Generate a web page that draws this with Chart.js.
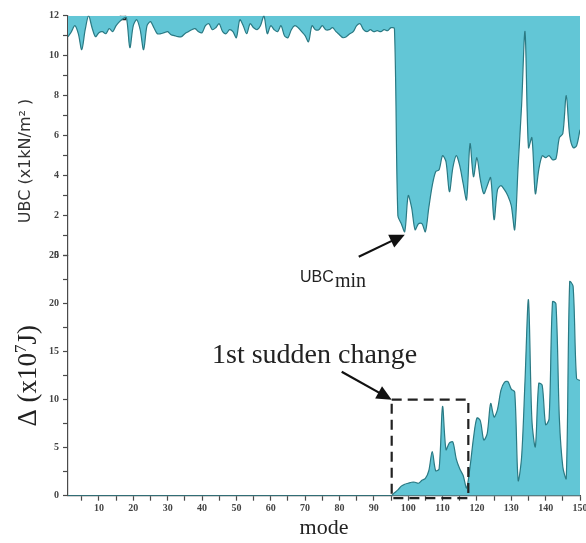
<!DOCTYPE html>
<html>
<head>
<meta charset="utf-8">
<script src="https://cdn.jsdelivr.net/npm/chart.js@4.4.0/dist/chart.umd.min.js"></script>
<style>
  html, body { margin: 0; padding: 0; background: #fff; }
  #wrap { position: relative; width: 586px; height: 543px; overflow: hidden; }
  #ubcChart { position: absolute; left: 0; top: 0; }
  #deltaChart { position: absolute; left: 0; top: 250px; }
</style>
</head>
<body>
<div id="wrap">
  <canvas id="ubcChart" width="586" height="300"></canvas>
  <canvas id="deltaChart" width="586" height="293"></canvas>
</div>
<script>
// mode numbers 1..150 (x categories)
const modes = Array.from({ length: 150 }, (_, i) => i + 1);

// UBC (x1kN/m2) per mode
const ubcValues = [
  10.95, 11.2, 11.5, 11.1, 10.3, 11.3, 12.0, 11.4, 10.95, 11.15,
  11.2, 11.1, 11.35, 11.2, 11.5, 11.7, 11.85, 11.9, 10.4, 11.5,
  11.8, 11.3, 10.3, 11.5, 11.7, 11.4, 11.1, 11.1, 11.15, 11.2,
  11.05, 11.0, 10.95, 10.95, 11.1, 11.2, 11.3, 11.35, 11.2, 11.15,
  11.5, 11.6, 11.3, 11.4, 11.6, 11.2, 11.1, 11.3, 11.2, 10.9,
  11.8, 11.5, 11.1, 11.6, 11.4, 11.3, 11.5, 12.0, 11.1, 11.5,
  11.3, 11.2, 11.5, 11.0, 10.9, 11.3, 11.5, 11.4, 11.2, 11.0,
  10.7, 11.5, 11.3, 11.3, 11.5, 11.3, 11.3, 11.4, 11.2, 11.05,
  10.9, 10.95, 11.1, 11.2, 11.5, 11.6, 11.3, 11.2, 11.3, 11.2,
  11.25, 11.2, 11.3, 11.25, 11.4, 11.35, 2.0, 1.6, 1.2, 3.0,
  2.4, 1.3, 1.6, 1.6, 1.2, 2.4, 3.5, 4.2, 4.3, 5.0,
  4.7, 3.2, 4.4, 5.0, 4.5, 3.6, 2.8, 5.6, 3.95, 4.9,
  3.8, 3.1, 3.5, 3.9, 1.8, 3.3, 3.5, 3.3, 3.0, 2.5,
  1.3, 4.5, 7.5, 11.2, 5.4, 5.9, 3.1, 4.3, 5.0, 4.9,
  5.0, 4.8, 4.85, 5.9, 6.1, 8.0, 6.0, 5.4, 5.5, 6.3
];

// Delta (x10^7 J) per mode
const deltaValues = [
  0, 0, 0, 0, 0, 0, 0, 0, 0, 0,
  0, 0, 0, 0, 0, 0, 0, 0, 0, 0,
  0, 0, 0, 0, 0, 0, 0, 0, 0, 0,
  0, 0, 0, 0, 0, 0, 0, 0, 0, 0,
  0, 0, 0, 0, 0, 0, 0, 0, 0, 0,
  0, 0, 0, 0, 0, 0, 0, 0, 0, 0,
  0, 0, 0, 0, 0, 0, 0, 0, 0, 0,
  0, 0, 0, 0, 0, 0, 0, 0, 0, 0,
  0, 0, 0, 0, 0, 0, 0, 0, 0, 0,
  0, 0, 0, 0, 0, 0.3, 0.6, 1.0, 1.2, 1.3,
  1.4, 1.4, 1.3, 1.6, 1.8, 2.6, 4.6, 2.6, 2.8, 9.3,
  4.8, 5.5, 5.6, 3.8, 2.8, 2.1, 0.8, 3.0, 6.0, 8.1,
  7.8, 5.8, 6.5, 9.6, 8.2, 9.0, 11.0, 11.8, 11.9, 11.1,
  10.8, 1.6, 4.0, 12.0, 20.4, 7.9, 5.1, 11.7, 11.5, 7.4,
  8.0, 20.2, 20.0, 8.0, 3.0, 1.8, 22.3, 21.8, 12.2, 12.0
];

// marked point on the UBC curve
const markerMode = [17];
const markerValue = [11.93];

// tick positions (labels shown only on the major ones)
const modeTicks = [5, 10, 15, 20, 25, 30, 35, 40, 45, 50, 55, 60, 65, 70, 75, 80, 85, 90, 95, 100,
                   105, 110, 115, 120, 125, 130, 135, 140, 145, 150];
const ubcTicks = [0, 1, 2, 3, 4, 5, 6, 7, 8, 9, 10, 11, 12];
const deltaTicks = [0, 2.5, 5, 7.5, 10, 12.5, 15, 17.5, 20, 22.5, 25];

const fillColor = 'rgb(98, 198, 214)';
const lineColor = 'rgb(42, 122, 132)';
const axisColor = '#4a4a4a';
const tickFont = { family: 'Liberation Serif', size: 10, weight: 'bold' };

function drawArrow(ctx, x0, y0, x1, y1) {
    const ang = Math.atan2(y1 - y0, x1 - x0);
    const head = 15;
    ctx.save();
    ctx.strokeStyle = '#111';
    ctx.fillStyle = '#111';
    ctx.lineWidth = 2.2;
    ctx.beginPath();
    ctx.moveTo(x0, y0);
    ctx.lineTo(x1 - head * 0.8 * Math.cos(ang), y1 - head * 0.8 * Math.sin(ang));
    ctx.stroke();
    ctx.beginPath();
    ctx.moveTo(x1, y1);
    ctx.lineTo(x1 - head * Math.cos(ang) + 7 * Math.sin(ang), y1 - head * Math.sin(ang) - 7 * Math.cos(ang));
    ctx.lineTo(x1 - head * Math.cos(ang) - 7 * Math.sin(ang), y1 - head * Math.sin(ang) + 7 * Math.cos(ang));
    ctx.closePath();
    ctx.fill();
    ctx.restore();
}

// y title + "UBC min" callout for the top panel
const ubcNotes = {
    id: 'ubcNotes',
    afterDraw(chart) {
        const ctx = chart.ctx;
        const { x, y } = chart.scales;
        ctx.save();
        ctx.fillStyle = '#333';
        ctx.translate(26, 161);
        ctx.rotate(-Math.PI / 2);
        ctx.font = '16px "DejaVu Sans"';
        ctx.textAlign = 'center';
        ctx.textBaseline = 'middle';
        ctx.fillText('UBC (x1kN/m\u00B2 )', 0, 0);
        ctx.restore();

        const tipX = x.getPixelForValue(99);
        const tipY = y.getPixelForValue(ubcValues[98]) + 3;
        drawArrow(ctx, tipX - 46, tipY + 22, tipX, tipY);

        ctx.save();
        ctx.fillStyle = '#222';
        ctx.textBaseline = 'alphabetic';
        ctx.font = '16px "Liberation Sans"';
        ctx.fillText('UBC', 300, 282);
        ctx.font = '20px "Liberation Serif"';
        ctx.fillText('min', 335, 287);
        ctx.restore();
    }
};

// y title with superscript, dashed box + "1st sudden change" callout for the bottom panel
const deltaNotes = {
    id: 'deltaNotes',
    afterDraw(chart) {
        const ctx = chart.ctx;
        const { x, y } = chart.scales;

        // rotated title "Δ (x10^7J)"
        const big = '27px "Liberation Serif"';
        const small = '17px "Liberation Serif"';
        const parts = [['\u0394 (x10', big, 0], ['7', small, -10], ['J)', big, 0]];
        ctx.save();
        let total = 0;
        parts.forEach(p => { ctx.font = p[1]; total += ctx.measureText(p[0]).width; });
        ctx.translate(27, (y.top + y.bottom) / 2);
        ctx.rotate(-Math.PI / 2);
        ctx.fillStyle = '#222';
        ctx.textBaseline = 'alphabetic';
        let cx = -total / 2;
        parts.forEach(p => {
            ctx.font = p[1];
            ctx.fillText(p[0], cx, 9 + p[2]);
            cx += ctx.measureText(p[0]).width;
        });
        ctx.restore();

        const x1 = x.getPixelForValue(95.2);
        const x2 = x.getPixelForValue(117.5);
        const y1 = y.getPixelForValue(10);
        const y2 = y.getPixelForValue(-0.25);
        ctx.save();
        ctx.strokeStyle = '#222';
        ctx.lineWidth = 2.2;
        ctx.setLineDash([10, 6]);
        ctx.strokeRect(x1, y1, x2 - x1, y2 - y1);
        ctx.restore();

        drawArrow(ctx, x1 - 50, y1 - 28, x1, y1);

        ctx.save();
        ctx.fillStyle = '#222';
        ctx.font = '28px "Liberation Serif"';
        ctx.textBaseline = 'alphabetic';
        ctx.fillText('1st sudden change', 212, 113);
        ctx.restore();
    }
};

function yAxis(min, max, tickValues, labelStep) {
    return {
        min: min,
        max: max,
        afterBuildTicks: s => { s.ticks = tickValues.map(v => ({ value: v })); },
        afterFit: s => { s.width = 68; s.paddingTop = 0; s.paddingBottom = 0; },
        ticks: {
            autoSkip: false,
            callback: v => (v % labelStep === 0 ? v : ''),
            font: tickFont,
            color: '#444',
            padding: 4
        },
        grid: { drawOnChartArea: false, tickLength: 5, color: axisColor, tickWidth: 1.2 },
        border: { color: axisColor, width: 1.2 }
    };
}

document.addEventListener('DOMContentLoaded', () => {
    const ubcCtx = document.getElementById('ubcChart').getContext('2d');
    const deltaCtx = document.getElementById('deltaChart').getContext('2d');

    // Top panel: UBC, shaded from curve up to the top of the axis
    window.ubcChart = new Chart(ubcCtx, {
        type: 'line',
        data: {
            datasets: [{
                data: modes.map((m, i) => ({ x: m, y: ubcValues[i] })),
                borderColor: lineColor,
                borderWidth: 1.2,
                backgroundColor: fillColor,
                fill: 'end',
                pointRadius: 0,
                tension: 0.3
            }, {
                type: 'scatter',
                data: markerMode.map((m, i) => ({ x: m, y: markerValue[i] })),
                pointStyle: 'rect',
                pointRadius: 3.5,
                backgroundColor: '#fff',
                borderColor: '#222',
                borderWidth: 1.5
            }]
        },
        options: {
            responsive: false,
            animation: false,
            layout: { padding: { top: 15.7, bottom: 44.3, left: 0, right: 6 } },
            plugins: { legend: { display: false }, tooltip: { enabled: false } },
            scales: {
                x: { type: 'linear', min: 1, max: 150, display: false },
                y: yAxis(0, 12, ubcTicks, 2)
            }
        },
        plugins: [ubcNotes]
    });

    // Bottom panel: Delta, shaded from zero up
    window.deltaChart = new Chart(deltaCtx, {
        type: 'line',
        data: {
            datasets: [{
                data: modes.map((m, i) => ({ x: m, y: deltaValues[i] })),
                borderColor: lineColor,
                borderWidth: 1.2,
                backgroundColor: fillColor,
                fill: 'origin',
                pointRadius: 0,
                tension: 0.3
            }]
        },
        options: {
            responsive: false,
            animation: false,
            layout: { padding: { top: 5.7, bottom: 0, left: 0, right: 6 } },
            plugins: { legend: { display: false }, tooltip: { enabled: false } },
            scales: {
                x: {
                    type: 'linear',
                    min: 1,
                    max: 150,
                    afterBuildTicks: s => { s.ticks = modeTicks.map(v => ({ value: v })); },
                    afterFit: s => { s.height = 47.3; s.paddingLeft = 0; s.paddingRight = 0; },
                    ticks: {
                        autoSkip: false,
                        maxRotation: 0,
                        callback: v => (v % 10 === 0 ? v : ''),
                        font: tickFont,
                        color: '#444',
                        padding: 2
                    },
                    grid: { drawOnChartArea: false, tickLength: 5, color: axisColor, tickWidth: 1.2 },
                    border: { color: axisColor, width: 1.2 },
                    title: {
                        display: true,
                        text: 'mode',
                        font: { family: 'Liberation Serif', size: 22 },
                        color: '#222',
                        padding: { top: 0, bottom: 2 }
                    }
                },
                y: yAxis(0, 25, deltaTicks, 5)
            }
        },
        plugins: [deltaNotes]
    });
});
</script>
</body>
</html>
